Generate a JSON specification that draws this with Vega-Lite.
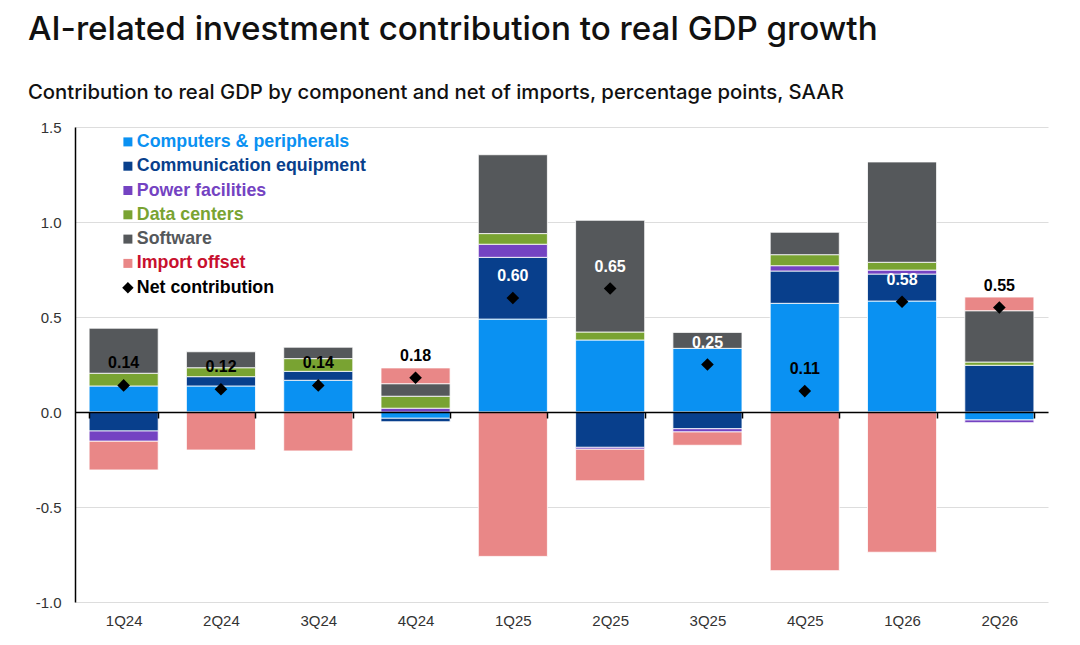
{
  "$schema": "https://vega.github.io/schema/vega-lite/v6.json",
  "autosize": "none",
  "width": 973,
  "height": 475,
  "padding": {"left": 75, "top": 127, "right": 32, "bottom": 43},
  "config": {
    "view": {"stroke": null},
    "font": "Liberation Sans",
    "title": {
      "font": "Inter",
      "fontSize": 33.2,
      "fontWeight": 500,
      "color": "#111111",
      "subtitleFont": "Inter",
      "subtitleFontSize": 20.3,
      "subtitleFontWeight": 500,
      "subtitleColor": "#111111",
      "subtitlePadding": 36,
      "anchor": "start",
      "frame": "group",
      "dx": -47,
      "offset": 16
    }
  },
  "title": {
    "text": "AI-related investment contribution to real GDP growth",
    "subtitle": "Contribution to real GDP by component and net of imports, percentage points, SAAR"
  },
  "datasets": {
    "parts": [
      {"q": "1Q24", "c": "Computers & peripherals", "v": 0.137},
      {"q": "1Q24", "c": "Communication equipment", "v": -0.1},
      {"q": "1Q24", "c": "Power facilities", "v": -0.054},
      {"q": "1Q24", "c": "Data centers", "v": 0.067},
      {"q": "1Q24", "c": "Software", "v": 0.237},
      {"q": "1Q24", "c": "Import offset", "v": -0.151},
      {"q": "2Q24", "c": "Computers & peripherals", "v": 0.137},
      {"q": "2Q24", "c": "Communication equipment", "v": 0.049},
      {"q": "2Q24", "c": "Data centers", "v": 0.047},
      {"q": "2Q24", "c": "Software", "v": 0.084},
      {"q": "2Q24", "c": "Import offset", "v": -0.2},
      {"q": "3Q24", "c": "Computers & peripherals", "v": 0.167},
      {"q": "3Q24", "c": "Communication equipment", "v": 0.047},
      {"q": "3Q24", "c": "Data centers", "v": 0.067},
      {"q": "3Q24", "c": "Software", "v": 0.06},
      {"q": "3Q24", "c": "Import offset", "v": -0.205},
      {"q": "4Q24", "c": "Computers & peripherals", "v": -0.033},
      {"q": "4Q24", "c": "Communication equipment", "v": -0.018},
      {"q": "4Q24", "c": "Power facilities", "v": 0.02},
      {"q": "4Q24", "c": "Data centers", "v": 0.063},
      {"q": "4Q24", "c": "Software", "v": 0.066},
      {"q": "4Q24", "c": "Import offset", "v": 0.083},
      {"q": "1Q25", "c": "Computers & peripherals", "v": 0.489},
      {"q": "1Q25", "c": "Communication equipment", "v": 0.325},
      {"q": "1Q25", "c": "Power facilities", "v": 0.069},
      {"q": "1Q25", "c": "Data centers", "v": 0.056},
      {"q": "1Q25", "c": "Software", "v": 0.415},
      {"q": "1Q25", "c": "Import offset", "v": -0.76},
      {"q": "2Q25", "c": "Computers & peripherals", "v": 0.379},
      {"q": "2Q25", "c": "Communication equipment", "v": -0.186},
      {"q": "2Q25", "c": "Power facilities", "v": -0.01},
      {"q": "2Q25", "c": "Data centers", "v": 0.042},
      {"q": "2Q25", "c": "Software", "v": 0.588},
      {"q": "2Q25", "c": "Import offset", "v": -0.166},
      {"q": "3Q25", "c": "Computers & peripherals", "v": 0.335},
      {"q": "3Q25", "c": "Communication equipment", "v": -0.088},
      {"q": "3Q25", "c": "Power facilities", "v": -0.017},
      {"q": "3Q25", "c": "Software", "v": 0.084},
      {"q": "3Q25", "c": "Import offset", "v": -0.07},
      {"q": "4Q25", "c": "Computers & peripherals", "v": 0.572},
      {"q": "4Q25", "c": "Communication equipment", "v": 0.17},
      {"q": "4Q25", "c": "Power facilities", "v": 0.028},
      {"q": "4Q25", "c": "Data centers", "v": 0.058},
      {"q": "4Q25", "c": "Software", "v": 0.118},
      {"q": "4Q25", "c": "Import offset", "v": -0.835},
      {"q": "1Q26", "c": "Computers & peripherals", "v": 0.584},
      {"q": "1Q26", "c": "Communication equipment", "v": 0.142},
      {"q": "1Q26", "c": "Power facilities", "v": 0.021},
      {"q": "1Q26", "c": "Data centers", "v": 0.041},
      {"q": "1Q26", "c": "Software", "v": 0.528},
      {"q": "1Q26", "c": "Import offset", "v": -0.738},
      {"q": "2Q26", "c": "Computers & peripherals", "v": -0.042},
      {"q": "2Q26", "c": "Communication equipment", "v": 0.246},
      {"q": "2Q26", "c": "Power facilities", "v": -0.014},
      {"q": "2Q26", "c": "Data centers", "v": 0.017},
      {"q": "2Q26", "c": "Software", "v": 0.27},
      {"q": "2Q26", "c": "Import offset", "v": 0.072}
    ],
    "net": [
      {"q": "1Q24", "net": 0.14},
      {"q": "2Q24", "net": 0.12},
      {"q": "3Q24", "net": 0.14},
      {"q": "4Q24", "net": 0.18},
      {"q": "1Q25", "net": 0.6},
      {"q": "2Q25", "net": 0.65},
      {"q": "3Q25", "net": 0.25},
      {"q": "4Q25", "net": 0.11},
      {"q": "1Q26", "net": 0.58},
      {"q": "2Q26", "net": 0.55}
    ]
  },
  "encoding": {
    "x": {
      "field": "q",
      "type": "nominal",
      "sort": null,
      "scale": {"paddingInner": 0.29, "paddingOuter": 0.145},
      "axis": {
        "title": null,
        "labelAngle": 0,
        "labelFontSize": 15,
        "labelColor": "#333333",
        "offset": -190,
        "tickBand": "extent",
        "tickSize": 6,
        "tickColor": "#000000",
        "tickWidth": 1.5,
        "domainColor": "#000000",
        "domainWidth": 1.5,
        "labelPadding": 195,
        "zindex": 1
      }
    }
  },
  "layer": [
    {
      "data": {"name": "parts"},
      "transform": [
        {"calculate": "indexof(['Computers & peripherals', 'Communication equipment', 'Power facilities', 'Data centers', 'Software', 'Import offset'], datum.c)", "as": "k"}
      ],
      "mark": {"type": "bar", "stroke": "white", "strokeWidth": 0.8},
      "encoding": {
        "y": {
          "field": "v",
          "type": "quantitative",
          "stack": "zero",
          "scale": {"domain": [-1, 1.5], "nice": false},
          "axis": {
            "title": null,
            "values": [-1, -0.5, 0, 0.5, 1, 1.5],
            "format": ".1f",
            "labelExpr": "replace(datum.label, '\u2212', '-')",
            "labelFontSize": 15,
            "labelColor": "#333333",
            "labelPadding": 14,
            "ticks": false,
            "gridColor": "#dddddd",
            "domainColor": "#000000",
            "domainWidth": 1.5
          }
        },
        "order": {"field": "k", "type": "quantitative"},
        "color": {
          "field": "c",
          "type": "nominal",
          "scale": {
            "domain": ["Computers & peripherals", "Communication equipment", "Power facilities", "Data centers", "Software", "Import offset", "Net contribution"],
            "range": ["#0a91f2", "#083f8c", "#7443c2", "#79a332", "#55585b", "#e98787", "#000000"]
          },
          "legend": {
            "title": null,
            "orient": "none",
            "legendX": 44,
            "legendY": 6,
            "padding": 0,
            "symbolType": {"expr": "datum.value === 'Net contribution' ? 'diamond' : 'square'"},
            "symbolSize": {"expr": "datum.value === 'Net contribution' ? 130 : 81"},
            "symbolStrokeWidth": 0,
            "labelFont": "Liberation Sans",
            "labelFontSize": 17.8,
            "labelFontWeight": "bold",
            "labelColor": {"expr": "datum.value === 'Import offset' ? '#c8102e' : scale('color', datum.value)"},
            "labelLimit": 400,
            "labelOffset": 0,
            "rowPadding": 5.3
          }
        }
      }
    },
    {
      "data": {"name": "net"},
      "mark": {"type": "point", "shape": "diamond", "filled": true, "size": 160, "opacity": 1},
      "encoding": {
        "y": {"field": "net", "type": "quantitative"},
        "color": {"datum": "Net contribution"}
      }
    },
    {
      "data": {"name": "net"},
      "mark": {"type": "text", "dy": -22, "fontSize": 16, "fontWeight": "bold", "font": "Liberation Sans"},
      "encoding": {
        "y": {"field": "net", "type": "quantitative"},
        "text": {"field": "net", "type": "quantitative", "format": ".2f"},
        "color": {
          "condition": {"test": "indexof(['1Q25', '2Q25', '3Q25', '1Q26'], datum.q) >= 0", "value": "#ffffff"},
          "value": "#000000"
        }
      }
    }
  ]
}
